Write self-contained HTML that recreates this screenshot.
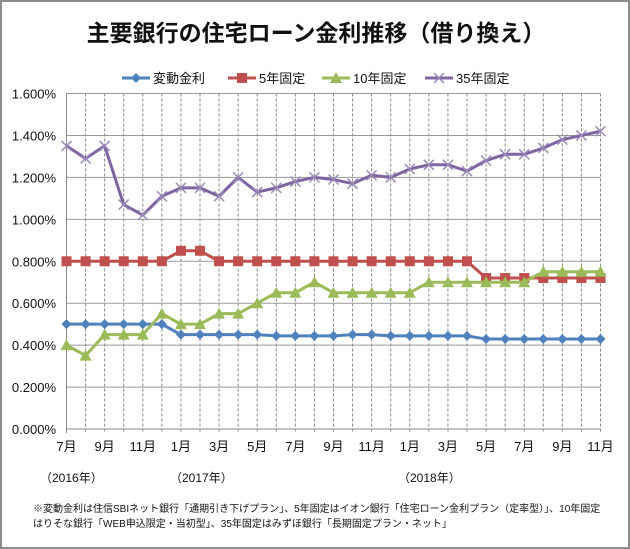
<!DOCTYPE html>
<html><head><meta charset="utf-8"><style>
body{margin:0;background:#fff}
#wrap{position:relative;width:630px;height:549px;box-sizing:border-box;border:2px solid #8c8c8c;background:#fff;font-family:"Liberation Sans","Noto Sans CJK JP",sans-serif}
svg text{font-family:"Liberation Sans","Noto Sans CJK JP",sans-serif}
</style></head><body>
<div id="wrap">
<svg id="chart" width="630" height="549" style="position:absolute;left:-2px;top:-2px">
<text x="316" y="41" text-anchor="middle" font-size="23" font-weight="bold" fill="#111">主要銀行の住宅ローン金利推移（借り換え）</text>
<g id="legend"></g>
<g id="grid"></g>
<g id="axes"></g>
<g id="series"></g>
<text x="40" y="482" font-size="12" fill="#111">（2016年）</text>
<text x="170" y="482" font-size="12" fill="#111">（2017年）</text>
<text x="398" y="482" font-size="12" fill="#111">（2018年）</text>
<text x="33" y="512" font-size="10" fill="#111">※変動金利は住信SBIネット銀行「通期引き下げプラン」、5年固定はイオン銀行「住宅ローン金利プラン（定率型）」、10年固定</text>
<text x="33" y="527" font-size="10" fill="#111">はりそな銀行「WEB申込限定・当初型」、35年固定はみずほ銀行「長期固定プラン・ネット」</text>
</svg>
</div>
<script>
const categories=["7月","8月","9月","10月","11月","12月","1月","2月","3月","4月","5月","6月","7月","8月","9月","10月","11月","12月","1月","2月","3月","4月","5月","6月","7月","8月","9月","10月","11月"];
const yTicks=[0,0.2,0.4,0.6,0.8,1.0,1.2,1.4,1.6];
const seriesNames=["変動金利","5年固定","10年固定","35年固定"];
const hendo=[0.5,0.5,0.5,0.5,0.5,0.5,0.45,0.45,0.45,0.45,0.45,0.444,0.444,0.444,0.444,0.45,0.45,0.444,0.444,0.444,0.444,0.444,0.429,0.429,0.429,0.429,0.429,0.429,0.429];
const fix5=[0.8,0.8,0.8,0.8,0.8,0.8,0.85,0.85,0.8,0.8,0.8,0.8,0.8,0.8,0.8,0.8,0.8,0.8,0.8,0.8,0.8,0.8,0.72,0.72,0.72,0.72,0.72,0.72,0.72];
const fix10=[0.4,0.35,0.45,0.45,0.45,0.55,0.5,0.5,0.55,0.55,0.6,0.65,0.65,0.7,0.65,0.65,0.65,0.65,0.65,0.7,0.7,0.7,0.7,0.7,0.7,0.75,0.75,0.75,0.75];
const fix35=[1.35,1.29,1.35,1.07,1.02,1.11,1.15,1.15,1.11,1.2,1.13,1.15,1.18,1.2,1.19,1.17,1.21,1.2,1.24,1.26,1.26,1.23,1.28,1.31,1.31,1.34,1.38,1.4,1.42];

const NS="http://www.w3.org/2000/svg";
const X0=66.5,X1=600.5,Y0=429,Y1=93.5,YMAX=1.6;
const xs=i=>X0+(X1-X0)*i/(categories.length-1);
const ys=v=>Y0-(Y0-Y1)*v/YMAX;
function mk(tag,attrs,parent){const e=document.createElementNS(NS,tag);for(const k in attrs)e.setAttribute(k,attrs[k]);parent.appendChild(e);return e;}
const grid=document.getElementById('grid'),axes=document.getElementById('axes'),ser=document.getElementById('series'),leg=document.getElementById('legend');
yTicks.forEach(t=>{
  const l=mk('line',{x1:X0,x2:X1,y1:ys(t),y2:ys(t),stroke:t===0?'#888':'#999','stroke-width':1},grid);
  
  
  const tx=mk('text',{x:56,y:ys(t)+5,'text-anchor':'end','font-size':13,fill:'#111'},axes);
  tx.textContent=t.toFixed(3)+'%';
  
  
});
categories.forEach((c,i)=>{
  const l=mk('line',{x1:xs(i),x2:xs(i),y1:Y1,y2:Y0+4,stroke:'#888','stroke-width':1,'stroke-dasharray':i===0?'none':'3,2'},grid);
  
  
  if(i%2===0){
    const tx=mk('text',{x:xs(i),y:451,'text-anchor':'middle','font-size':13,fill:'#111'},axes);
    tx.textContent=c;
    
    
  }
});
const colors=["#4f81bd","#c0504d","#9bbb59","#8064a2"];
const data=[hendo,fix5,fix10,fix35];
function marker(k,x,y,g){
  let m;
  if(k===0)m=mk('path',{d:`M${x} ${y-5}L${x+5} ${y}L${x} ${y+5}L${x-5} ${y}Z`,fill:colors[0]},g);
  else if(k===1)m=mk('rect',{x:x-5,y:y-5,width:10,height:10,fill:colors[1]},g);
  else if(k===2)m=mk('path',{d:`M${x} ${y-6}L${x+6} ${y+5}L${x-6} ${y+5}Z`,fill:colors[2]},g);
  else m=mk('path',{d:`M${x-5} ${y-5}L${x+5} ${y+5}M${x+5} ${y-5}L${x-5} ${y+5}`,stroke:'#9a8ab8','stroke-width':1.5},g);
  return m;
}
data.forEach((arr,k)=>{
  const g=mk('g',{},ser);
  
  
  const p=mk('polyline',{points:arr.map((v,i)=>xs(i)+','+ys(v)).join(' '),fill:'none',stroke:colors[k],'stroke-width':3,'stroke-linejoin':'round'},g);
  
  
  arr.forEach((v,i)=>{
    const m=marker(k,xs(i),ys(v),g);
    
    
  });
});
const lx=[122,228,322,425];
seriesNames.forEach((n,k)=>{
  const g=mk('g',{},leg);
  
  
  mk('line',{x1:lx[k],x2:lx[k]+28,y1:78,y2:78,stroke:colors[k],'stroke-width':3},g);
  marker(k,lx[k]+14,78,g);
  const t=mk('text',{x:lx[k]+31,y:83,'font-size':13,fill:'#111'},g);
  t.textContent=n;
});
</script>
</body></html>
